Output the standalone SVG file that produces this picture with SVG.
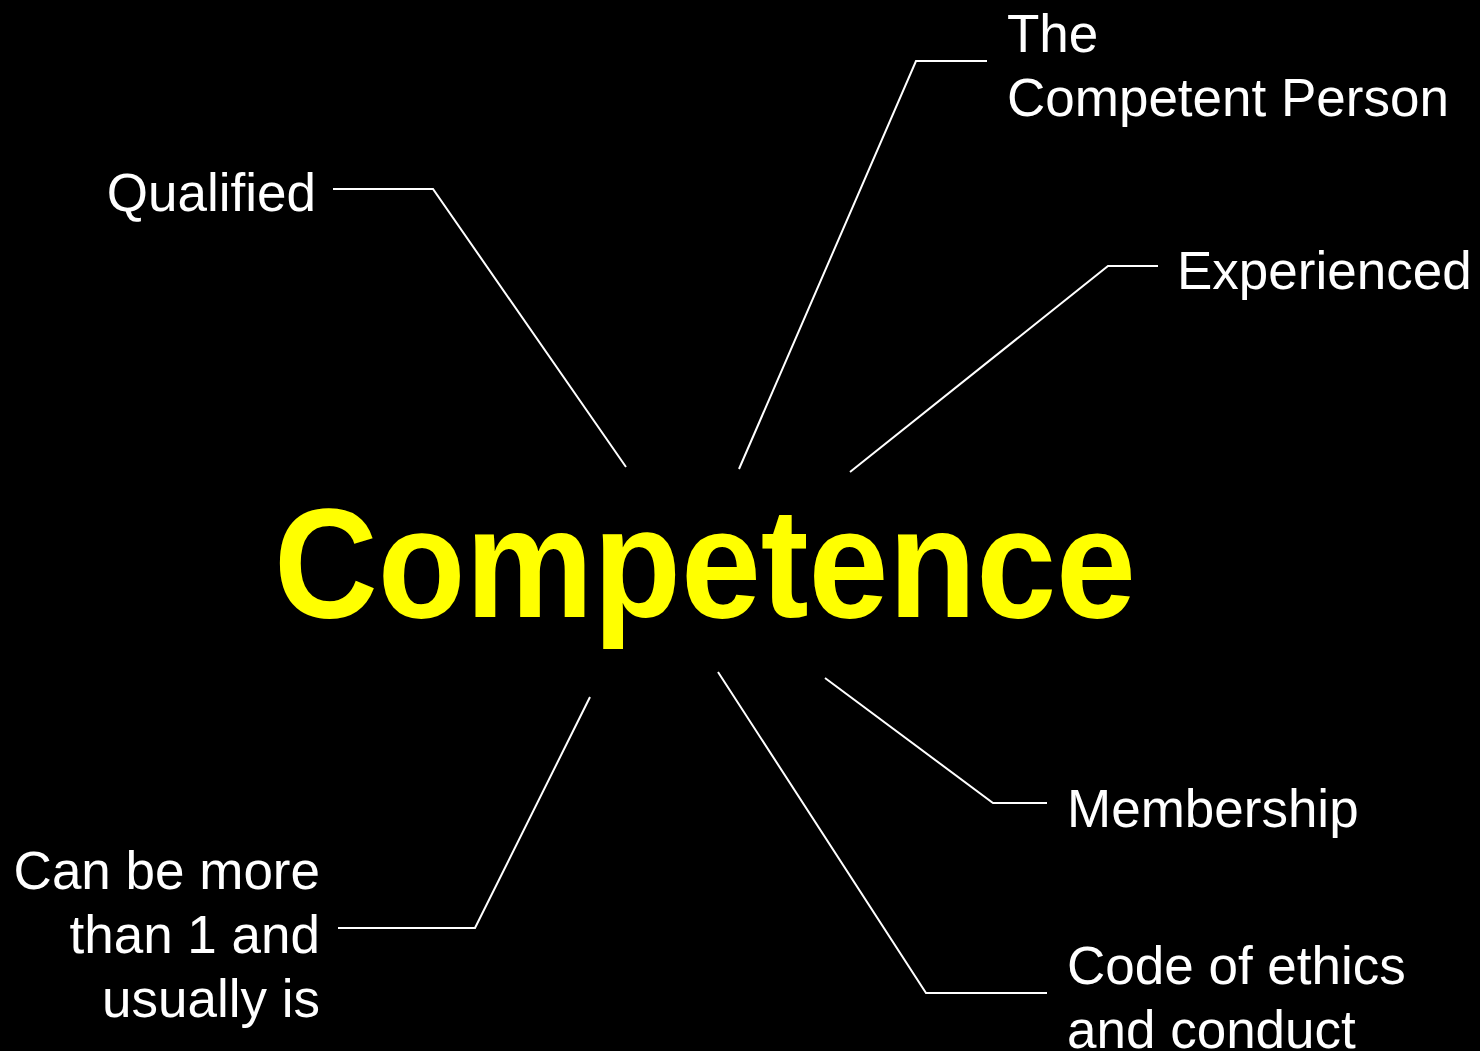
<svg xmlns="http://www.w3.org/2000/svg" width="1480" height="1051" viewBox="0 0 1480 1051">
<style>
.lbl{font-family:"Liberation Sans",Arial,sans-serif;font-size:53px;fill:#ffffff}
.title{font-family:"Liberation Sans",Arial,sans-serif;font-size:156px;font-weight:bold;fill:#ffff00}
.con{fill:none;stroke:#ffffff;stroke-width:2}
</style>
<rect width="1480" height="1051" fill="#000000"/>
<g id="connectors">
<polyline class="con" points="333,189 433,189 626,467"/>
<polyline class="con" points="987,61 916,61 739,469"/>
<polyline class="con" points="1158,266 1108,266 850,472"/>
<polyline class="con" points="1047,803 993,803 825,678"/>
<polyline class="con" points="1047,993 926,993 718,672"/>
<polyline class="con" points="338,928 475,928 590,697"/>
</g>
<g id="competence">
<text class="title" x="274" y="617" textLength="862" lengthAdjust="spacingAndGlyphs">Competence</text>
</g>
<g id="qualified">
<text class="lbl" x="316" y="211" text-anchor="end">Qualified</text>
</g>
<g id="competent-person">
<text class="lbl" x="1007" y="52">The</text>
<text class="lbl" x="1007" y="116">Competent Person</text>
</g>
<g id="experienced">
<text class="lbl" x="1177" y="289">Experienced</text>
</g>
<g id="membership">
<text class="lbl" x="1067" y="827">Membership</text>
</g>
<g id="code-of-ethics">
<text class="lbl" x="1067" y="984">Code of ethics</text>
<text class="lbl" x="1067" y="1048">and conduct</text>
</g>
<g id="more-than-one">
<text class="lbl" x="320" y="889" text-anchor="end">Can be more</text>
<text class="lbl" x="320" y="953" text-anchor="end">than 1 and</text>
<text class="lbl" x="320" y="1017" text-anchor="end">usually is</text>
</g>
</svg>
